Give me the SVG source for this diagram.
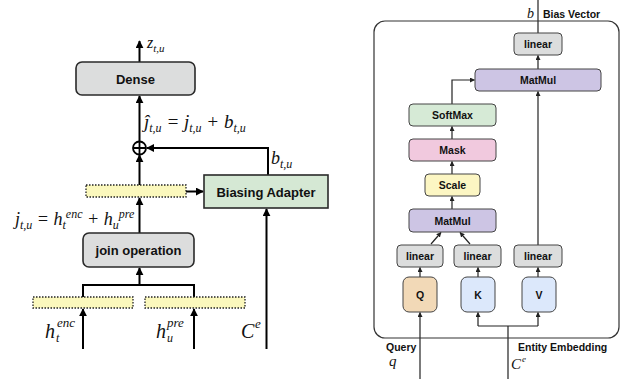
<svg xmlns="http://www.w3.org/2000/svg" width="624" height="379" viewBox="0 0 624 379">
<defs>
<marker id="ah" viewBox="0 0 10 10" refX="9" refY="5" markerWidth="8" markerHeight="8" markerUnits="userSpaceOnUse" orient="auto"><path d="M0,0 L10,5 L0,10 z" fill="#000"/></marker>
<marker id="as" viewBox="0 0 10 10" refX="9" refY="5" markerWidth="5" markerHeight="5" markerUnits="userSpaceOnUse" orient="auto"><path d="M0,0 L10,5 L0,10 z" fill="#222"/></marker>
<style>
.box{stroke:#2a2a2a;stroke-width:1.6}
.sbox{stroke:#444;stroke-width:1}
.gray{fill:#dcdddd}
.dash{fill:#fbf8bd;stroke:#222;stroke-width:1.3;stroke-dasharray:1.5 1.5}
.t{font-family:"Liberation Sans",Arial,sans-serif;font-weight:bold;fill:#111;text-anchor:middle}
.lt{font-size:13px}
.st{font-size:10.5px}
.m{font-family:"Liberation Serif","Times New Roman",serif;font-style:italic;fill:#111}
.w{stroke:#000;stroke-width:2;fill:none}
.n{stroke:#222;stroke-width:1.2;fill:none}
</style>
</defs>

<g id="connectors">
<path class="w" d="M139.5,62 V41" marker-end="url(#ah)"/>
<path class="w" d="M139.5,141 V96" marker-end="url(#ah)"/>
<path class="w" d="M268,175 V148 H147" marker-end="url(#ah)"/>
<path class="w" d="M139.5,185 V155" marker-end="url(#ah)"/>
<path class="w" d="M186,191.5 H203" marker-end="url(#ah)"/>
<path class="w" d="M139.5,233 V198" marker-end="url(#ah)"/>
<path class="w" d="M83,297 V285 H194 V297 M139.5,285 V268" marker-end="url(#ah)"/>
<path class="w" d="M83,349 V309" marker-end="url(#ah)"/>
<path class="w" d="M194,349 V309" marker-end="url(#ah)"/>
<path class="w" d="M266.5,349 V209" marker-end="url(#ah)"/>
<path class="n" d="M538,0 V33"/>
<path class="n" d="M538,69 V55.5" marker-end="url(#as)"/>
<path class="n" d="M452,104 V80 H474.5" marker-end="url(#as)"/>
<path class="n" d="M538,245 V91.5" marker-end="url(#as)"/>
<path class="n" d="M452,139 V126.5" marker-end="url(#as)"/>
<path class="n" d="M452,174 V161.5" marker-end="url(#as)"/>
<path class="n" d="M452,209 V196.5" marker-end="url(#as)"/>
<path class="n" d="M431,244 L441,232.5" marker-end="url(#as)"/>
<path class="n" d="M470,244 L460,232.5" marker-end="url(#as)"/>
<path class="n" d="M420,277 V267.5" marker-end="url(#as)"/>
<path class="n" d="M478,277 V267.5" marker-end="url(#as)"/>
<path class="n" d="M538,277 V267.5" marker-end="url(#as)"/>
<path class="n" d="M420,379 V312.5" marker-end="url(#as)"/>
<path class="n" d="M508,379 V326 M478,326 H538 M478,326 V312.5" marker-end="url(#as)"/>
<path class="n" d="M538,326 V312.5" marker-end="url(#as)"/>
</g>

<g id="dense"><rect class="box gray" x="76" y="62" width="119" height="33" rx="6"/><text class="t lt" x="135.5" y="83.5">Dense</text></g>
<g id="oplus"><circle cx="139.5" cy="148" r="6.5" fill="#fff" stroke="#000" stroke-width="1.8"/><path d="M133,148 H146 M139.5,141.5 V154.5" stroke="#000" stroke-width="1.8"/></g>
<g id="biasing-adapter"><rect class="box" fill="#d5e8d4" x="204" y="175" width="124" height="33"/><text class="t lt" x="266" y="196.5">Biasing Adapter</text></g>
<g id="join-vec"><rect class="dash" x="86" y="185" width="100" height="12"/></g>
<g id="join"><rect class="box gray" x="83" y="233" width="111" height="34" rx="6"/><text class="t lt" x="138.5" y="254.5">join operation</text></g>
<g id="enc-vec"><rect class="dash" x="33" y="297" width="100" height="11"/></g>
<g id="pre-vec"><rect class="dash" x="145" y="297" width="100" height="11"/></g>

<g id="left-labels" class="m">
<text x="147" y="48" font-size="16">z<tspan font-size="11" dy="4">t,u</tspan></text>
<text x="144" y="128" font-size="19">ĵ<tspan font-size="12" dy="4">t,u</tspan><tspan dy="-4"> = j</tspan><tspan font-size="12" dy="4">t,u</tspan><tspan dy="-4"> + b</tspan><tspan font-size="12" dy="4">t,u</tspan></text>
<text x="271" y="164" font-size="18">b<tspan font-size="12" dy="4">t,u</tspan></text>
<text x="15" y="225" font-size="18">j<tspan font-size="12" dy="4">t,u</tspan><tspan dy="-4"> = h</tspan><tspan font-size="12" dy="4">t</tspan><tspan font-size="12" dy="-11">enc</tspan><tspan dy="7"> + h</tspan><tspan font-size="12" dy="4">u</tspan><tspan font-size="12" dy="-11">pre</tspan></text>
<text x="45" y="338" font-size="20">h</text>
<text x="56" y="342" font-size="12">t</text>
<text x="57" y="327" font-size="13">enc</text>
<text x="156" y="338" font-size="20">h</text>
<text x="167" y="342" font-size="12">u</text>
<text x="167" y="327" font-size="13">pre</text>
<text x="241" y="338" font-size="20">C</text>
<text x="255" y="328" font-size="13">e</text>
</g>

<g id="adapter-frame"><rect x="374" y="21" width="245" height="317" rx="11" fill="none" stroke="#333" stroke-width="1.2"/></g>
<g id="linear-out"><rect class="sbox gray" x="514" y="33" width="48" height="22" rx="4"/><text class="t st" x="538" y="48">linear</text></g>
<g id="matmul-top"><rect class="sbox" fill="#cdc5e4" x="475" y="69" width="126" height="22" rx="4"/><text class="t st" x="538" y="84">MatMul</text></g>
<g id="softmax"><rect class="sbox" fill="#d6ead6" x="409" y="104" width="87" height="22" rx="4"/><text class="t st" x="452.5" y="119">SoftMax</text></g>
<g id="mask"><rect class="sbox" fill="#f1c9de" x="409" y="139" width="87" height="22" rx="4"/><text class="t st" x="452.5" y="154">Mask</text></g>
<g id="scale"><rect class="sbox" fill="#fcf6c3" x="425" y="174" width="55" height="22" rx="4"/><text class="t st" x="452.5" y="189">Scale</text></g>
<g id="matmul-low"><rect class="sbox" fill="#cdc5e4" x="409" y="209" width="87" height="23" rx="4"/><text class="t st" x="452.5" y="224.5">MatMul</text></g>
<g id="linear-q"><rect class="sbox gray" x="397" y="245" width="46" height="22" rx="4"/><text class="t st" x="420" y="260">linear</text></g>
<g id="linear-k"><rect class="sbox gray" x="454" y="245" width="47" height="22" rx="4"/><text class="t st" x="477.5" y="260">linear</text></g>
<g id="linear-v"><rect class="sbox gray" x="514" y="245" width="48" height="22" rx="4"/><text class="t st" x="538" y="260">linear</text></g>
<g id="q"><rect class="sbox" fill="#f2d9b7" x="403" y="277" width="34" height="35" rx="6"/><text class="t st" x="420" y="298.5">Q</text></g>
<g id="k"><rect class="sbox" fill="#dce8fb" x="461" y="277" width="34" height="35" rx="6"/><text class="t st" x="478" y="298.5">K</text></g>
<g id="v"><rect class="sbox" fill="#dce8fb" x="522" y="277" width="34" height="35" rx="6"/><text class="t st" x="539" y="298.5">V</text></g>

<g id="right-labels">
<text class="m" x="527" y="18" font-size="14">b</text>
<text class="t st" x="543" y="18" style="text-anchor:start">Bias Vector</text>
<text class="t st" x="386" y="351" style="text-anchor:start">Query</text>
<text class="m" x="389" y="366" font-size="15">q</text>
<text class="t st" x="518" y="351" style="text-anchor:start">Entity Embedding</text>
<text class="m" x="511" y="369" font-size="15">C</text>
<text class="m" x="522" y="362" font-size="9">e</text>
</g>
</svg>
